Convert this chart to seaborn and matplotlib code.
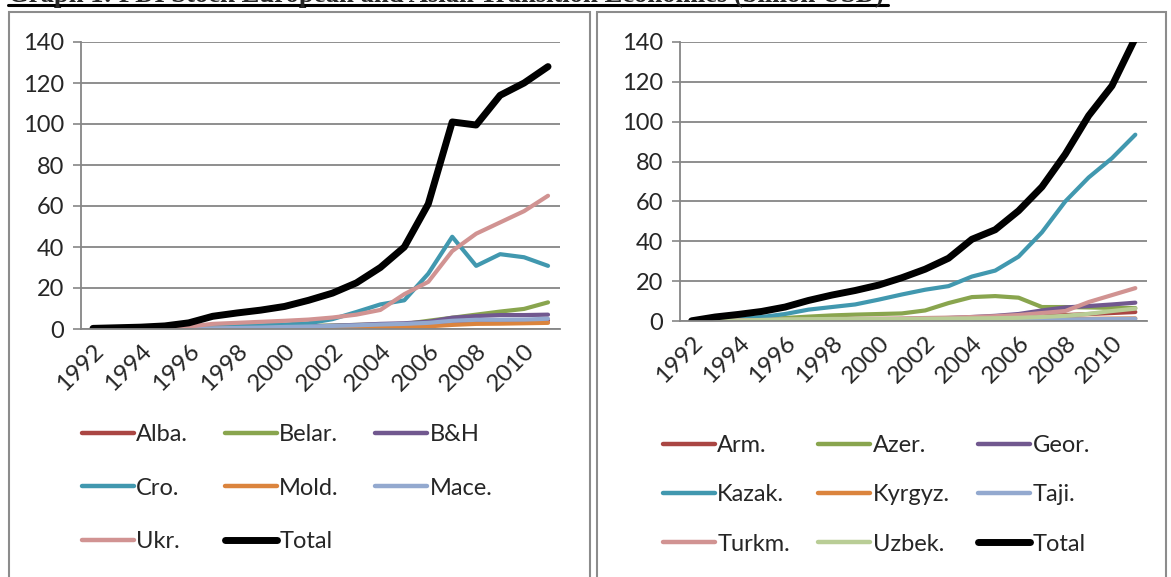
import numpy as np
import pandas as pd
import matplotlib
matplotlib.use("Agg")
import matplotlib.pyplot as plt
import seaborn as sns
from matplotlib.lines import Line2D
from matplotlib.patches import Rectangle

# --- data (billion USD) ---
years = list(range(1992, 2012))

# European transition economies
alba = [0, 0, 0, 0.1, 0.2, 0.3, 0.4, 0.5, 0.6, 0.8, 1.0, 1.2, 1.5, 1.9, 2.3, 2.9, 3.2, 3.4, 3.8, 4.2]
belar = [0, 0, 0.1, 0.1, 0.2, 0.4, 0.6, 1.0, 1.3, 1.5, 1.7, 2.0, 2.2, 2.4, 4.0, 5.5, 7.0, 8.5, 9.8, 13.0]
bh = [0, 0, 0, 0, 0.1, 0.2, 0.3, 0.5, 1.0, 1.3, 1.6, 2.0, 2.5, 2.8, 3.5, 5.5, 6.3, 6.8, 6.8, 7.0]
cro = [0, 0.1, 0.2, 0.3, 0.5, 1.0, 1.5, 1.8, 2.2, 2.8, 4.8, 8.3, 12.0, 14.0, 27.0, 45.0, 30.8, 36.5, 35.0, 30.8]
mold = [0, 0, 0, 0.1, 0.1, 0.2, 0.2, 0.3, 0.4, 0.5, 0.6, 0.7, 0.8, 1.0, 1.3, 2.0, 2.5, 2.6, 2.8, 3.0]
mace = [0, 0, 0.1, 0.1, 0.2, 0.3, 0.5, 0.7, 1.0, 1.2, 1.5, 1.8, 2.2, 2.5, 3.0, 4.0, 4.5, 4.5, 4.6, 5.0]
ukr = [0, 0.2, 0.3, 0.5, 1.2, 2.5, 3.0, 3.5, 4.0, 4.6, 5.6, 7.0, 9.3, 17.0, 23.0, 38.0, 46.5, 52.0, 57.5, 65.0]
total_eu = [0.3, 0.6, 0.9, 1.5, 3.0, 6.2, 7.8, 9.2, 11.0, 14.0, 17.5, 22.5, 30.0, 40.0, 61.0, 101.0, 99.5, 114.0, 120.0, 128.0]

# Asian transition economies
arm = [0, 0, 0, 0, 0, 0.1, 0.3, 0.4, 0.5, 0.6, 0.7, 0.8, 1.0, 1.2, 1.5, 2.5, 3.0, 3.5, 4.0, 4.5]
azer = [0, 0.1, 0.3, 0.7, 1.5, 2.2, 2.8, 3.2, 3.5, 3.8, 5.3, 9.0, 12.0, 12.5, 11.7, 7.0, 7.0, 6.8, 6.6, 6.5]
geor = [0, 0, 0, 0, 0.1, 0.2, 0.4, 0.6, 0.8, 1.0, 1.2, 1.5, 2.0, 2.6, 3.5, 5.3, 6.8, 7.5, 8.3, 9.2]
kazak = [0, 0.5, 1.0, 2.0, 3.5, 5.7, 7.0, 8.3, 10.7, 13.3, 15.7, 17.5, 22.3, 25.3, 32.3, 44.5, 60.0, 72.0, 81.7, 93.5]
kyrgyz = [0, 0, 0.1, 0.1, 0.2, 0.3, 0.4, 0.4, 0.4, 0.4, 0.5, 0.5, 0.6, 0.7, 0.8, 0.9, 1.0, 1.1, 1.2, 1.3]
taji = [0, 0, 0, 0, 0, 0, 0, 0.1, 0.1, 0.1, 0.1, 0.2, 0.2, 0.3, 0.4, 0.6, 0.8, 0.9, 1.0, 1.1]
turkm = [0, 0.1, 0.3, 0.5, 0.7, 0.8, 1.0, 1.1, 1.2, 1.3, 1.5, 1.7, 2.0, 2.4, 3.0, 4.0, 5.0, 9.5, 13.0, 16.5]
uzbek = [0, 0.1, 0.2, 0.5, 0.8, 0.9, 1.0, 1.0, 1.0, 1.0, 1.1, 1.2, 1.3, 1.4, 1.6, 2.0, 2.6, 3.6, 5.0, 6.2]
total_as = [0.1, 2.0, 3.3, 4.8, 7.0, 10.3, 13.0, 15.3, 18.0, 21.7, 26.0, 31.5, 41.0, 45.8, 55.3, 67.3, 83.7, 103.0, 118.0, 142.0]

eu_names = ["Alba.", "Belar.", "B&H", "Cro.", "Mold.", "Mace.", "Ukr.", "Total"]
eu_values = [alba, belar, bh, cro, mold, mace, ukr, total_eu]
as_names = ["Arm.", "Azer.", "Geor.", "Kazak.", "Kyrgyz.", "Taji.", "Turkm.", "Uzbek.", "Total"]
as_values = [arm, azer, geor, kazak, kyrgyz, taji, turkm, uzbek, total_as]

# Excel 2007 style colours
eu_colors = ["#AA4643", "#89A54E", "#71588F", "#4198AF", "#DB843D", "#93A9CF", "#D19392", "#000000"]
as_colors = ["#AA4643", "#89A54E", "#71588F", "#4198AF", "#DB843D", "#93A9CF", "#D19392", "#B9CD96", "#000000"]

sns.set_theme(style="white")
plt.rcParams["font.family"] = ["Lato", "DejaVu Sans"]

W, H = 1171, 577
fig = plt.figure(figsize=(W / 100, H / 100), dpi=100)


def px(x0, y0, x1, y1):
    # pixel box -> figure fraction rect
    return [x0 / W, 1 - y1 / H, (x1 - x0) / W, (y1 - y0) / H]


grid_c = "#868686"


def draw_panel(rect, names, values, colors, leg_anchor, leg_colsp, leg_rowsp):
    ax = fig.add_axes(rect)
    df = pd.DataFrame({n: v for n, v in zip(names, values)}, index=years)
    for n, c in zip(names, colors):
        lw = 5.0 if n == "Total" else 3.0
        sns.lineplot(x=df.index, y=df[n], ax=ax, color=c, lw=lw,
                     solid_capstyle="round", solid_joinstyle="round", legend=False)
    ax.set_xlim(1991.5, 2011.5)
    ax.set_ylim(0, 140)
    ax.set_yticks(range(0, 141, 20))
    ax.set_yticklabels([str(v) for v in range(0, 141, 20)], fontsize=17)
    ax.set_xticks(years[::2])
    ax.set_xticklabels([str(y) for y in years[::2]], rotation=45, ha="right",
                       rotation_mode="anchor", fontsize=17.5)
    ax.set_xticks(np.arange(1991.5, 2012, 1), minor=True)
    ax.tick_params(axis="x", which="major", length=0, pad=8)
    ax.tick_params(axis="x", which="minor", length=6, width=1.2, color=grid_c, direction="out")
    ax.tick_params(axis="y", length=6, width=1.2, color=grid_c, direction="out", pad=6, left=True)
    ax.grid(axis="y", color=grid_c, lw=1.3)
    ax.grid(axis="x", visible=False)
    ax.set_xlabel("")
    ax.set_ylabel("")
    for s in ["top", "right"]:
        ax.spines[s].set_visible(False)
    for s in ["left", "bottom"]:
        ax.spines[s].set_color(grid_c)
        ax.spines[s].set_linewidth(1.3)
    ax.set_axisbelow(True)

    # legend laid out row-wise like Excel (3 columns)
    handles = [Line2D([], [], color=c, lw=5.0 if n == "Total" else 3.2, solid_capstyle="round")
               for n, c in zip(names, colors)]
    order = []
    for col in range(3):
        order += list(range(col, len(names), 3))
    ax.legend([handles[i] for i in order], [names[i] for i in order],
              ncol=3, loc="upper left", bbox_to_anchor=leg_anchor,
              bbox_transform=fig.transFigure, frameon=False, fontsize=17,
              handlelength=2.2, handletextpad=0.1, columnspacing=leg_colsp,
              labelspacing=leg_rowsp, borderpad=0, borderaxespad=0)
    return ax


draw_panel(px(81, 42, 560, 329), eu_names, eu_values, eu_colors,
           (82 / W, 1 - 424 / H), 1.55, 1.38)
draw_panel(px(680, 42, 1147, 321), as_names, as_values, as_colors,
           (663 / W, 1 - 435 / H), 1.2, 1.2)

# panel frames
for x0, x1 in [(9, 590), (597, 1166)]:
    fig.add_artist(Rectangle((x0 / W, 1 - 600 / H), (x1 - x0) / W, (600 - 12) / H,
                             transform=fig.transFigure, fill=False,
                             edgecolor="#8c8c8c", lw=1.5))

# title, cut off at the top of the image as in the source page
fig.text(8 / W, 1 - 1.5 / H, "Graph 1: FDI Stock European and Asian Transition Economies (billion USD)",
         family="Liberation Serif", fontweight="bold", fontsize=19.2, va="baseline", ha="left")
fig.add_artist(Line2D([8 / W, 888 / W], [1 - 4.5 / H] * 2, transform=fig.transFigure,
                      color="black", lw=2.2))

fig.savefig("out.png", dpi=100)
